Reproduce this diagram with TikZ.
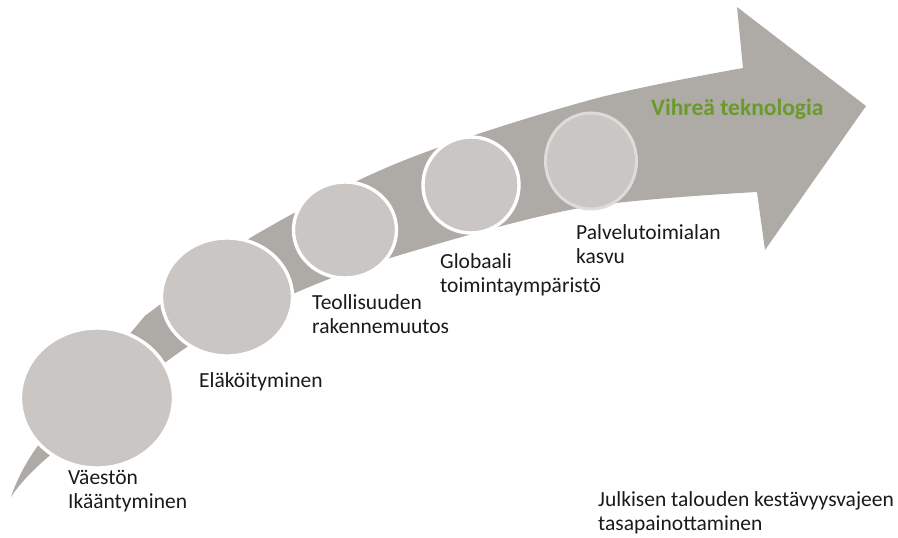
\documentclass[tikz,border=0pt]{standalone}
\usepackage{fontspec}
\setmainfont{Carlito}
\usepackage{xcolor}
\usetikzlibrary{shapes.geometric}

\definecolor{arrowgrey}{HTML}{AEABA6}
\definecolor{ballgrey}{HTML}{C9C6C3}
\definecolor{ringgrey}{HTML}{DEDCDA}
\definecolor{leafgreen}{HTML}{6A9A2A}
\definecolor{labelblack}{HTML}{1A1A1A}

\begin{document}
\begin{tikzpicture}[
  x=1pt, y=-1pt,
  font=\fontsize{21.5}{23.5}\selectfont,
  ball/.style={ellipse, draw=white, line width=3.4pt, fill=ballgrey, inner sep=0pt},
  lbl/.style={anchor=base west, align=left, inner sep=0pt, text=labelblack},
  trend/.style={anchor=base west, inner sep=0pt, text=leafgreen, font=\fontsize{23.5}{26}\selectfont\bfseries}
]
\useasboundingbox (0,0) rectangle (898,538);

% curved arrow
\fill[arrowgrey] plot[smooth, tension=0.55] coordinates {(11,497) (37,447) (133,330) (158,306) (250,238) (400,162) (590,100) (743,68)}
  -- (737,7) -- (866,106) -- (765,250) -- (757,192)
  -- plot[smooth, tension=0.55] coordinates {(757,192) (580,208) (400,255) (295,293) (187,347) (48,457) (11,497)} -- cycle;

% circles
\node[ball, minimum width=153pt, minimum height=140pt] (c1) at (97,398) {};
\node[ball, minimum width=131pt, minimum height=118pt] (c2) at (227,297) {};
\node[ball, minimum width=103pt, minimum height=96pt] (c3) at (345,230) {};
\node[ball, minimum width=96pt, minimum height=96pt] (c4) at (471,185) {};
\node[ball, draw=ringgrey, line width=3pt, minimum width=91pt, minimum height=96pt] (c5) at (591,161) {};

% labels (base = last line)
\node[lbl] (vaesto) at (68,508) {Väestön\\Ikääntyminen};
\node[lbl] (elakoit) at (199,387) {Eläköityminen};
\node[lbl] (teoll) at (312,333) {Teollisuuden\\rakennemuutos};
\node[lbl] (glob) at (440,292) {Globaali\\toimintaympäristö};
\node[lbl] (palvelu) at (576,263) {Palvelutoimialan\\kasvu};
\node[lbl] (julk) at (598,530) {Julkisen talouden kestävyysvajeen\\tasapainottaminen};
\node[trend] (vihrea) at (651,115) {Vihreä teknologia};
\end{tikzpicture}
\end{document}
